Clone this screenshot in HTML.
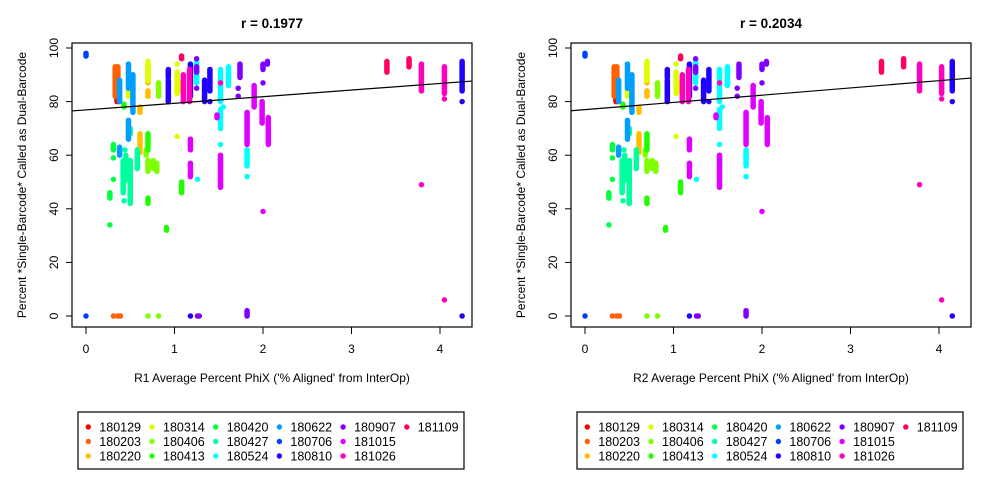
<!DOCTYPE html>
<html><head><meta charset="utf-8"><style>
body{margin:0;background:#fff;}
svg{display:block;font-family:"Liberation Sans",Arial,sans-serif;}
</style></head><body>
<svg id="c" width="1000" height="500"></svg>
<script>
const batches=["180129","180203","180220","180314","180406","180413","180420","180427","180524","180622","180706","180810","180907","181015","181026","181109"];
const colors=["#FF0000","#FF6000","#FFBF00","#DFFF00","#80FF00","#20FF00","#00FF40","#00FF9F","#00FFFF","#009FFF","#0040FF","#2000FF","#8000FF","#DF00FF","#FF00BF","#FF0060"];
// columns: [xR1, xR2, yLow, yHigh]
const s180129=[[0.35,0.35,80,88],[0.38,0.38,80,80]];
const s180203=[[0.33,0.33,82,93],[0.36,0.36,88,93],[0.31,0.31,0,0],[0.36,0.36,0,0],[0.39,0.39,0,0]];
const s180220=[[0.70,0.70,87,93],[0.70,0.70,82,84],[0.61,0.61,76,78],[0.61,0.61,61,68],[0.31,0.31,62,63]];
const s180314=[[0.70,0.70,88,95],[1.03,1.03,83,91],[1.03,1.03,94,94],[0.48,0.48,82,86],[1.03,1.03,67,67],[1.08,1.08,84,87]];
const s180406=[[0.82,0.82,82,87],[0.70,0.70,54,58],[0.76,0.76,55,58],[0.80,0.80,54,57],[0.68,0.68,60,62],[0.70,0.70,0,0],[0.82,0.82,0,0]];
const s180413=[[0.70,0.70,62,68],[0.70,0.70,42,44],[1.08,1.08,46,50],[0.91,0.91,32,33],[0.43,0.43,78,79]];
const s180420=[[0.31,0.31,62,64],[0.27,0.27,44,46],[0.27,0.27,34,34],[0.31,0.31,59,59],[0.31,0.31,51,51],[0.43,0.43,50,50]];
const s180427=[[0.42,0.42,46,58],[0.45,0.45,51,60],[0.50,0.50,42,58],[0.58,0.58,55,62],[0.44,0.44,62,62],[0.43,0.43,43,43],[0.50,0.50,68,70]];
const s180524=[[1.52,1.52,80,92],[1.52,1.52,70,77],[1.52,1.52,64,64],[1.52,1.52,56,59],[1.61,1.61,86,93],[1.55,1.55,78,78],[1.25,1.25,87,95],[1.82,1.82,56,62],[1.82,1.82,52,52],[1.26,1.26,51,51]];
const s180622=[[0.38,0.38,80,88],[0.48,0.48,85,94],[0.53,0.53,76,90],[0.48,0.48,66,73],[0.38,0.38,60,63]];
const s180706=[[0,0,97,98],[0,0,0,0]];
const s180810=[[0.93,0.93,80,88],[0.93,0.93,89,92],[1.18,1.18,82,94],[1.34,1.34,80,88],[1.40,1.40,84,92],[1.40,1.40,80,80],[4.25,4.15,84,95],[4.25,4.15,80,80],[4.25,4.15,0,0],[1.18,1.18,0,0]];
const s180907=[[1.25,1.25,96,96],[1.25,1.25,91,93],[1.74,1.74,89,94],[1.72,1.72,85,85],[1.72,1.72,82,82],[2.0,2.0,92,94],[2.0,2.0,87,87],[2.05,2.05,94,95],[1.25,1.25,85,85],[1.26,1.26,0,0],[1.28,1.28,0,0],[1.82,1.82,0,2]];
const s181015=[[1.18,1.18,62,66],[1.18,1.18,55,57],[1.18,1.18,52,54],[1.52,1.52,48,60],[1.48,1.48,74,75],[1.90,1.90,78,86],[1.82,1.82,64,76],[1.99,1.99,72,80],[2.06,2.06,64,74],[2.0,2.0,39,39]];
const s181026=[[1.10,1.10,80,90],[1.17,1.17,80,92],[1.52,1.52,87,87],[3.79,3.78,84,94],[3.79,3.78,49,49],[4.05,4.03,83,93],[4.05,4.03,81,81],[4.05,4.03,6,6]];
const s181109=[[1.08,1.08,96,97],[3.40,3.35,91,95],[3.65,3.60,93,96]];
const seriesData=[s180129,s180203,s180220,s180314,s180406,s180413,s180420,s180427,s180524,s180622,s180706,s180810,s180907,s181015,s181026,s181109];
const xTicks=[0,1,2,3,4];
const yTicks=[0,20,40,60,80,100];
const titles=["r = 0.1977","r = 0.2034"];
const xTitles=["R1 Average Percent PhiX ('% Aligned' from InterOp)","R2 Average Percent PhiX ('% Aligned' from InterOp)"];
const intercepts=[76.9,77.0];
const slopes=[2.47,2.7];

const NS="http://www.w3.org/2000/svg";
const svg=document.getElementById('c');
function el(tag,attrs,parent,text){const e=document.createElementNS(NS,tag);for(const k in attrs)e.setAttribute(k,attrs[k]);if(text!==undefined)e.textContent=text;(parent||svg).appendChild(e);return e;}

for(let p=0;p<2;p++){
  const off=p*499;
  const xs=v=>86+off+v*88.5;
  const ys=v=>316-v*2.68;
  const g=el('g',{});
  
  
  // points
  seriesData.forEach((ser,i)=>{
    const sg=el('g',{},g);
    
    
    ser.forEach(c=>{
      const x=xs(p===0?c[0]:c[1]);
      const ln=el('line',{x1:x,x2:x,y1:ys(c[2]),y2:ys(c[3]),stroke:colors[i],'stroke-width':5.5,'stroke-linecap':'round'},sg);
      
      
    });
  });
  // regression line (clipped to box)
  const x0=(72+off-(86+off))/88.5, x1=(472+off-(86+off))/88.5;
  const rl=el('line',{x1:xs(x0),x2:xs(x1),y1:ys(intercepts[p]+slopes[p]*x0),y2:ys(intercepts[p]+slopes[p]*x1),stroke:'#000','stroke-width':1.2},g);
  
  
  // box
  const bx=el('rect',{x:72+off,y:43,width:400,height:284,fill:'none',stroke:'#000','stroke-width':1.2},g);
  
  
  // x axis
  xTicks.forEach(t=>{
    el('line',{x1:xs(t),x2:xs(t),y1:327,y2:334,stroke:'#000'},g);
    const tl=el('text',{x:xs(t),y:353,'font-size':12,'text-anchor':'middle'},g,String(t));
    
    
  });
  el('line',{x1:xs(0),x2:xs(4),y1:327,y2:327,stroke:'#000'},g);
  yTicks.forEach(t=>{
    el('line',{x1:66+off,x2:72+off,y1:ys(t),y2:ys(t),stroke:'#000'},g);
    const tl=el('text',{x:0,y:0,'font-size':12,'text-anchor':'middle',transform:`translate(${58+off},${ys(t)}) rotate(-90)`},g,String(t));
    
    
  });
  const tt=el('text',{x:272+off,y:28,'font-size':13.5,'font-weight':'bold','text-anchor':'middle'},g,titles[p]);
  
  
  const xt=el('text',{x:272+off,y:382,'font-size':12,'text-anchor':'middle'},g,xTitles[p]);
  
  
  const yt=el('text',{x:0,y:0,'font-size':12,'text-anchor':'middle',transform:`translate(${26+off},185) rotate(-90)`},g,'Percent *Single-Barcode* Called as Dual-Barcode');
  
  
  // legend
  const lg=el('g',{},g);
  
  
  el('rect',{x:78+off,y:412,width:386,height:57,fill:'none',stroke:'#000','stroke-width':1.2},lg);
  batches.forEach((b,i)=>{
    const col=Math.floor(i/3),row=i%3;
    const dx=88.3+off+col*63.7, dy=427+row*14.5;
    const le=el('g',{},lg);
    
    
    el('circle',{cx:dx,cy:dy,r:2.7,fill:colors[i]},le);
    el('text',{x:dx+11,y:dy+4.5,'font-size':12.5},le,b);
  });
}
</script>
</body></html>
